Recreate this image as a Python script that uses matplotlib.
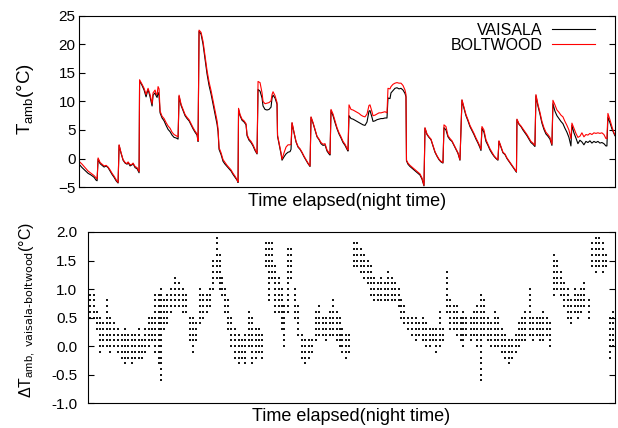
import numpy as np
import matplotlib
matplotlib.use("Agg")
import matplotlib.pyplot as plt

plt.rcParams['font.family'] = ['Liberation Sans', 'DejaVu Sans']
plt.rcParams['mathtext.default'] = 'regular'

# top panel: ambient temperature of both sensors, night time only (time in samples)
# one line per night
t_night = [0, 3, 6, 9, 12, 15, 17, 18,
           19, 21, 23, 25, 27, 29, 31, 33, 35, 37, 39,
           40, 42, 44, 46, 48, 49, 51, 53, 54, 56, 58, 60,
           60.5, 63, 65, 67, 68, 69, 71, 73, 74, 76, 77, 78, 79, 80, 81, 83, 85, 87, 89, 91, 93, 95, 97, 99,
           100, 102, 104, 106, 108, 110, 112, 114, 116, 118, 119,
           120, 122, 124, 126, 128, 130, 132, 134, 136, 138, 139, 140, 142, 144, 146, 148, 150, 152, 154, 156, 158, 159,
           159.5, 161, 163, 165, 167, 168, 170, 172, 174, 176, 178,
           179, 181, 183, 184, 186, 188, 190, 192, 193, 194, 196, 198, 198.5, 200, 202, 203, 205, 207, 209, 211, 212,
           213, 215, 217, 219, 221, 223, 225, 227, 229, 231,
           232, 234, 236, 238, 240, 242, 244, 246, 248, 250, 251,
           252, 254, 256, 258, 260, 262, 264, 266, 268, 269,
           270, 272, 274, 276, 278, 280, 282, 284, 286, 288, 290, 291, 293, 294, 296, 298, 300, 302, 304, 306, 308,
           309, 311, 312, 314, 316, 318, 320, 322, 324, 326, 327,
           327.5, 329, 331, 333, 335, 337, 339, 341, 343, 345,
           346, 348, 350, 352, 354, 356, 358, 360, 362, 364,
           365, 367, 369, 371, 373, 375, 377, 379, 381,
           383, 385, 387, 389, 391, 393, 395, 397, 399, 401, 402,
           403, 405, 407, 409, 411, 413, 415, 417, 419,
           420, 422, 424, 426, 428, 430, 432, 434, 436, 437.5,
           438, 440, 442, 444, 446, 448, 450, 452, 454, 456,
           457, 459, 461, 463, 465, 467, 469, 471, 473,
           474, 476, 478, 480, 482, 484, 486, 488, 490, 492, 493, 495, 497, 499, 501, 503, 505, 507, 509, 511,
           513, 515, 517, 519, 521, 523, 525, 527, 528,
           529, 531, 533, 535, 536]
vaisala = [-1.0, -1.6, -2.1, -2.6, -2.9, -3.3, -3.8, -3.9,
           -0.1, -0.9, -1.2, -1.5, -1.3, -1.6, -2.2, -2.8, -3.3, -3.9, -4.3,
           2.3, 0.9, -0.3, -0.8, -1.0, -0.7, -1.3, -1.1, -0.9, -1.6, -1.8, -2.5,
           13.6, 12.8, 12.0, 10.8, 11.5, 12.1, 10.8, 9.2, 11.1, 11.5, 11.0, 10.7, 11.6, 11.0, 8.0, 7.1, 6.6, 5.8, 5.1, 4.7, 4.1, 3.7, 3.6, 3.4,
           10.9, 9.3, 8.4, 7.5, 7.0, 6.6, 5.9, 5.2, 4.6, 4.1, 3.0,
           22.3, 21.8, 20.0, 17.4, 14.8, 12.8, 11.3, 9.5, 7.8, 6.0, 4.7, 1.6, 0.7, -0.5, -1.0, -1.4, -1.8, -2.2, -2.8, -3.3, -3.8, -4.2,
           8.6, 7.5, 6.7, 6.4, 5.9, 4.0, 3.2, 2.8, 2.2, 1.4, 0.8,
           12.1, 11.8, 10.6, 9.2, 8.6, 8.5, 8.6, 9.0, 10.6, 11.1, 10.6, 9.5, 3.9, 2.6, 0.8, -0.3, 0.3, 0.8, 1.1, 1.2, 1.6,
           6.2, 4.5, 2.9, 2.0, 1.6, 1.0, 0.3, -0.3, -0.9, -1.4,
           7.2, 6.2, 5.0, 3.8, 3.3, 2.6, 2.3, 2.4, 1.3, 0.8, 0.6,
           8.4, 7.5, 6.3, 5.2, 4.3, 3.6, 2.8, 2.3, 1.6, 1.3,
           7.5, 7.0, 6.9, 6.7, 6.5, 6.3, 6.1, 5.9, 5.8, 6.4, 8.3, 8.4, 7.2, 6.5, 6.6, 6.8, 6.9, 7.0, 7.0, 7.1, 7.1,
           10.6, 10.5, 11.5, 11.9, 12.3, 12.4, 12.2, 12.3, 12.0, 11.4, 10.8,
           -0.4, -1.0, -1.4, -1.7, -2.0, -2.3, -2.6, -2.9, -3.6, -4.8,
           5.3, 4.2, 3.7, 3.3, 2.2, 1.1, 0.4, -0.2, -0.6, -0.8,
           5.4, 5.0, 3.8, 3.3, 3.0, 2.3, 1.6, 0.9, -0.3,
           10.2, 8.8, 7.5, 6.6, 5.6, 4.9, 4.2, 3.4, 2.7, 1.9, 1.4,
           5.3, 4.6, 3.0, 2.3, 1.5, 0.9, 0.4, 0.0, -0.3,
           3.0, 2.0, 1.0, 0.7, 0.0, -0.5, -1.0, -1.5, -2.0, -2.4,
           6.8, 6.0, 5.6, 5.0, 4.5, 4.0, 3.4, 2.8, 2.5, 2.1,
           11.0, 9.2, 7.8, 6.2, 5.1, 4.3, 3.9, 3.4, 2.3,
           9.6, 8.3, 7.5, 7.0, 6.5, 6.1, 5.3, 4.6, 3.7, 2.2, 5.8, 4.5, 3.6, 2.6, 3.2, 2.9, 2.4, 3.0, 2.8, 3.1,
           2.7, 3.0, 2.8, 3.0, 2.7, 2.8, 2.6, 2.2, 2.2,
           7.2, 6.3, 5.2, 4.4, 4.0]
boltwood = [-0.5, -1.0, -1.6, -2.2, -2.6, -3.0, -3.4, -3.6,
            0.1, -0.7, -1.0, -1.3, -1.2, -1.5, -2.0, -2.6, -3.1, -3.7, -4.2,
            2.4, 1.0, -0.2, -0.7, -0.9, -0.6, -1.1, -1.0, -0.8, -1.4, -1.6, -2.3,
            13.8, 13.0, 12.3, 11.2, 11.8, 12.3, 11.2, 9.6, 11.5, 12.0, 11.3, 11.2, 12.6, 12.2, 8.3, 7.4, 7.0, 6.3, 5.7, 5.3, 4.6, 4.2, 4.0, 3.8,
            11.1, 9.5, 8.6, 7.7, 7.2, 6.8, 6.1, 5.4, 4.8, 4.3, 3.1,
            22.5, 22.1, 20.5, 18.0, 15.4, 13.4, 11.9, 10.1, 8.4, 6.6, 5.2, 1.9, 1.0, -0.2, -0.7, -1.2, -1.6, -2.0, -2.6, -3.1, -3.7, -4.1,
            8.8, 7.7, 6.9, 6.6, 6.1, 4.2, 3.4, 3.0, 2.4, 1.6, 0.9,
            13.5, 13.3, 11.5, 10.0, 9.6, 9.7, 9.8, 10.1, 11.2, 11.7, 11.0, 9.8, 4.1, 2.8, 1.0, -0.1, 1.0, 2.0, 2.4, 2.4, 2.5,
            6.3, 4.6, 3.0, 2.1, 1.7, 1.1, 0.4, -0.2, -0.8, -1.3,
            7.3, 6.3, 5.1, 3.9, 3.4, 2.8, 2.5, 2.6, 1.5, 1.0, 0.8,
            8.6, 7.8, 6.6, 5.4, 4.5, 3.8, 3.0, 2.5, 1.8, 1.5,
            9.4, 8.6, 8.5, 8.3, 8.1, 7.9, 7.6, 7.4, 7.3, 7.8, 9.3, 9.4, 8.2, 7.5, 7.6, 7.8, 8.0, 8.0, 8.1, 8.2, 8.0,
            12.3, 12.2, 12.6, 13.0, 13.2, 13.3, 13.2, 13.2, 12.8, 12.0, 11.2,
            -0.3, -0.8, -1.2, -1.5, -1.8, -2.1, -2.4, -2.7, -3.4, -4.7,
            5.4, 4.3, 3.8, 3.4, 2.3, 1.2, 0.5, -0.1, -0.5, -0.7,
            5.9, 5.6, 4.0, 3.5, 3.1, 2.4, 1.7, 1.0, -0.2,
            10.3, 9.0, 7.7, 6.8, 5.8, 5.1, 4.4, 3.6, 2.9, 2.1, 1.6,
            5.6, 5.0, 3.3, 2.5, 1.7, 1.1, 0.5, 0.1, -0.2,
            3.1, 2.1, 1.1, 0.8, 0.1, -0.4, -0.9, -1.4, -1.9, -2.3,
            6.9, 6.1, 5.7, 5.2, 4.7, 4.2, 3.6, 3.0, 2.7, 2.3,
            11.2, 9.5, 8.1, 6.5, 5.4, 4.6, 4.2, 3.7, 2.5,
            10.2, 9.4, 8.5, 8.1, 7.6, 7.3, 6.5, 5.8, 5.0, 3.5, 6.2, 5.3, 4.4, 3.7, 3.9, 4.5, 3.8, 4.2, 4.1, 4.4,
            4.2, 4.5, 4.4, 4.5, 4.4, 4.5, 4.2, 3.5, 3.5,
            7.9, 6.8, 5.6, 4.5, 4.2]

# bottom panel: difference vaisala - boltwood, 0.1 degC resolution
# lowest and highest value seen around each time
diff_t = [2, 6, 9, 12, 16, 20, 23, 27, 31, 35, 38, 41, 45, 48, 52, 55, 58, 62, 65, 68,
          72, 74, 78, 81, 85, 89, 93, 97, 100, 104, 107, 110, 114, 117, 121, 124, 127, 131, 134, 137,
          140, 143, 146, 150, 154, 157, 160, 164, 167, 171, 174, 177, 181, 184, 187, 190, 194, 197, 200, 204,
          207, 211, 214, 218, 221, 225, 228, 232, 235, 239, 242, 246, 249, 253, 256, 259, 263, 266, 271, 274,
          278, 281, 285, 288, 291, 295, 298, 302, 305, 309, 312, 316, 319, 322, 326, 330, 334, 337, 341, 344,
          348, 351, 354, 358, 361, 365, 368, 372, 375, 379, 382, 385, 390, 393, 396, 400, 403, 407, 410, 414,
          417, 421, 424, 428, 431, 435, 438, 442, 445, 450, 453, 457, 460, 463, 467, 470, 474, 477, 481, 484,
          488, 491, 495, 498, 502, 505, 510, 513, 517, 520, 524, 527, 531, 534]
diff_lo = [0.5, 0.5, 0.3, -0.1, 0.0, 0.0, -0.1, 0.0, -0.1, -0.2, -0.3, -0.2, -0.3, -0.2, -0.2, -0.2, -0.1, 0.0, 0.1, -0.1,
           -0.3, -0.6, 0.3, 0.4, 0.6, 0.7, 0.7, 0.6, 0.6, 0.1, -0.1, 0.1, 0.4, 0.5, 0.6, 0.7, 1.0, 1.2, 1.0, 0.9,
           0.6, 0.3, 0.0, -0.2, -0.3, -0.2, -0.3, 0.0, -0.3, -0.2, -0.1, -0.2, 1.4, 0.8, 1.2, 0.6, 0.6, 0.3, 0.0, 0.6,
           1.2, 0.5, 0.2, -0.2, -0.3, -0.2, -0.1, 0.1, 0.2, 0.2, 0.1, 0.2, 0.2, 0.1, 0.0, -0.1, -0.2, -0.1, 1.4, 1.4,
           1.3, 1.2, 1.1, 0.9, 0.8, 0.8, 0.8, 0.8, 0.8, 0.8, 0.8, 0.7, 0.5, 0.4, 0.3, 0.2, 0.1, 0.2, 0.1, 0.0,
           0.0, 0.1, -0.1, 0.0, 0.1, 0.6, 0.3, 0.3, 0.2, 0.1, 0.0, 0.2, 0.1, 0.2, 0.0, -0.6, 0.2, 0.1, 0.0, 0.0,
           0.0, -0.1, -0.2, -0.3, -0.2, -0.1, 0.0, 0.1, 0.1, 0.2, 0.1, 0.2, 0.1, 0.1, 0.2, 0.0, 0.9, 1.0, 0.9, 0.7,
           0.5, 0.4, 0.6, 0.5, 0.6, 0.7, 0.5, 1.4, 1.3, 1.4, 1.3, 1.4, -0.2, 0.0]
diff_hi = [0.9, 0.9, 0.6, 0.5, 0.4, 0.8, 0.5, 0.4, 0.3, 0.2, 0.3, 0.2, 0.2, 0.2, 0.3, 0.1, 0.3, 0.5, 0.5, 0.9,
           0.9, 1.0, 0.8, 0.9, 1.0, 1.2, 1.1, 1.0, 0.9, 0.5, 0.5, 0.4, 1.0, 0.9, 0.9, 1.0, 1.5, 2.0, 1.6, 1.2,
           1.0, 0.8, 0.5, 0.3, 0.2, 0.1, 0.2, 0.6, 0.5, 0.3, 0.3, 0.2, 1.8, 1.8, 1.8, 1.4, 1.2, 1.0, 0.7, 1.7,
           1.7, 1.0, 0.7, 0.2, 0.1, 0.1, 0.1, 0.6, 0.7, 0.5, 0.5, 0.6, 0.8, 0.6, 0.5, 0.3, 0.2, 0.2, 1.8, 1.8,
           1.7, 1.6, 1.5, 1.4, 1.2, 1.1, 1.2, 1.1, 1.3, 1.2, 1.1, 1.0, 0.8, 0.7, 0.5, 0.5, 0.5, 0.4, 0.5, 0.4,
           0.3, 0.3, 0.3, 0.6, 0.3, 1.3, 0.8, 0.7, 0.7, 0.5, 0.6, 0.5, 0.5, 0.6, 0.7, 0.9, 0.8, 0.5, 0.4, 0.6,
           0.5, 0.3, 0.2, 0.1, 0.1, 0.2, 0.4, 0.5, 0.6, 1.0, 0.5, 0.5, 0.5, 0.6, 0.5, 0.4, 1.6, 1.5, 1.3, 1.1,
           1.0, 0.8, 1.0, 0.9, 1.0, 1.1, 0.8, 1.8, 1.9, 1.9, 1.8, 1.6, 0.5, 0.6]

fig = plt.figure(figsize=(6.18, 4.28), dpi=100)
ax1 = fig.add_axes([0.128, 0.563, 0.867, 0.400])
ax2 = fig.add_axes([0.142, 0.058, 0.853, 0.400])

ax1.plot(t_night, vaisala, color='black', lw=0.8, label='VAISALA')
ax1.plot(t_night, boltwood, color='red', lw=0.8, label='BOLTWOOD')
ax1.set_xlim(0, 536)
ax1.set_ylim(-5, 25)
ax1.set_yticks(np.arange(-5, 26, 5))
ax1.set_ylabel('T$_{amb}$(°C)', fontsize=13.5)
ax1.yaxis.set_label_coords(-0.080, 0.517)
ax1.set_xlabel('Time elapsed(night time)', fontsize=13, labelpad=4)
ax1.legend(loc='upper right', bbox_to_anchor=(0.963, 0.96), frameon=False, markerfirst=False,
           fontsize=11.5, handlelength=2.7, handletextpad=0.6, labelspacing=0.0,
           borderpad=0, borderaxespad=0)
ax1.tick_params(axis='y', pad=2.5)

# every reading at each 0.1 level between lo and hi
dot_t = []
dot_v = []
for t, lo, hi in zip(diff_t, diff_lo, diff_hi):
    for k in range(int(round(lo * 10)), int(round(hi * 10)) + 1):
        dot_t.append(t)
        dot_v.append(k / 10)
ax2.plot(dot_t, dot_v, linestyle='none', marker='_', color='black', ms=2.0, mew=1.3)
ax2.set_xlim(0, 536)
ax2.set_ylim(-1, 2)
ax2.set_yticks(np.arange(-1, 2.01, 0.5))
ax2.yaxis.set_major_formatter(matplotlib.ticker.FormatStrFormatter('%.1f'))
ax2.set_ylabel(r'ΔT$_{amb,\ \text{vaisala-boltwood}}$(°C)', fontsize=11.5)
ax2.yaxis.set_label_coords(-0.095, 0.547)
ax2.set_xlabel('Time elapsed(night time)', fontsize=13, labelpad=3.5)
ax2.tick_params(axis='y', pad=7.5)

for ax in (ax1, ax2):
    ax.set_xticks([])
    ax.tick_params(axis='y', direction='in', right=True, length=4, labelsize=11)
    for s in ax.spines.values():
        s.set_linewidth(0.8)

fig.savefig('out.png', dpi=100)
